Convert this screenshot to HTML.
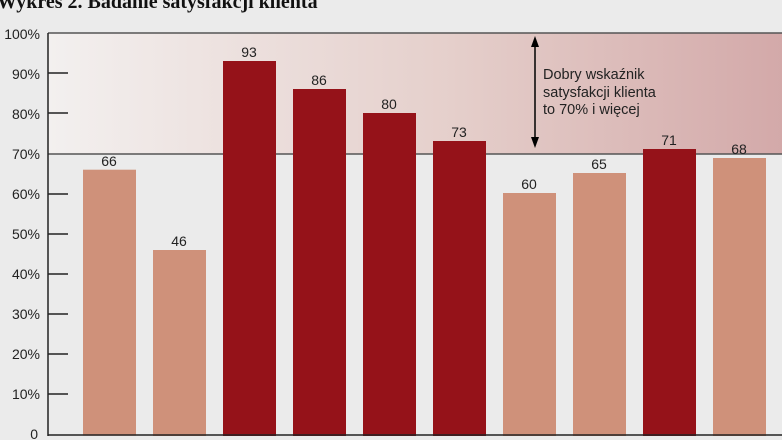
<!DOCTYPE html>
<html><head><style>
html,body{margin:0;padding:0;background:#ebebeb;width:782px;height:440px;overflow:hidden}
</style></head><body>
<svg width="782" height="440" xmlns="http://www.w3.org/2000/svg" style="display:block">
<defs>
<linearGradient id="g" x1="0" x2="1" y1="0" y2="0">
<stop offset="0" stop-color="#f3f0ef"/>
<stop offset="0.55" stop-color="#e5cfcb"/>
<stop offset="1" stop-color="#d3a9a9"/>
</linearGradient>
</defs>
<text x="-3" y="8" font-family="Liberation Serif, serif" font-weight="bold" font-size="20" fill="#111">Wykres 2. Badanie satysfakcji klienta</text>
<rect x="48" y="33" width="734" height="121" fill="url(#g)"/>
<line x1="48" y1="33" x2="782" y2="33" stroke="#555" stroke-width="1.5"/>
<line x1="48" y1="154" x2="782" y2="154" stroke="#555" stroke-width="1.5"/>
<g font-family="Liberation Sans, sans-serif" font-size="14" fill="#222" text-anchor="end">
<text x="40" y="39">100%</text><text x="40" y="79">90%</text><text x="40" y="119">80%</text>
<text x="40" y="159">70%</text><text x="40" y="199">60%</text><text x="40" y="239">50%</text>
<text x="40" y="279">40%</text><text x="40" y="319">30%</text><text x="40" y="359">20%</text>
<text x="40" y="399">10%</text><text x="38" y="439">0</text>
</g>
<g stroke="#222" stroke-width="1.5">
<line x1="48" y1="73" x2="68" y2="73"/><line x1="48" y1="113" x2="68" y2="113"/>
<line x1="48" y1="194" x2="68" y2="194"/><line x1="48" y1="234" x2="68" y2="234"/>
<line x1="48" y1="274" x2="68" y2="274"/><line x1="48" y1="314" x2="68" y2="314"/>
<line x1="48" y1="354" x2="68" y2="354"/><line x1="48" y1="394" x2="68" y2="394"/>
</g>
<g>
<rect x="83" y="169.7" width="53" height="266" fill="#cf917a"/>
<rect x="153" y="250" width="53" height="186" fill="#cf917a"/>
<rect x="223" y="61" width="53" height="375" fill="#951219"/>
<rect x="293" y="89" width="53" height="347" fill="#951219"/>
<rect x="363" y="113" width="53" height="323" fill="#951219"/>
<rect x="433" y="141" width="53" height="295" fill="#951219"/>
<rect x="503" y="193" width="53" height="243" fill="#cf917a"/>
<rect x="573" y="173" width="53" height="263" fill="#cf917a"/>
<rect x="643" y="149" width="53" height="287" fill="#951219"/>
<rect x="713" y="158" width="53" height="278" fill="#cf917a"/>
</g>
<g font-family="Liberation Sans, sans-serif" font-size="14" fill="#222" text-anchor="middle">
<text x="109" y="166">66</text><text x="179" y="246">46</text><text x="249" y="57">93</text>
<text x="319" y="85">86</text><text x="389" y="109">80</text><text x="459" y="137">73</text>
<text x="529" y="189">60</text><text x="599" y="169">65</text><text x="669" y="145">71</text>
<text x="739" y="154">68</text>
</g>
<line x1="48" y1="33" x2="48" y2="436" stroke="#222" stroke-width="1.5"/>
<line x1="48" y1="435" x2="782" y2="435" stroke="#222" stroke-width="1.5"/>
<line x1="535" y1="42" x2="535" y2="142" stroke="#000" stroke-width="1.5"/>
<polygon points="535,36 531,47 539,47" fill="#000"/>
<polygon points="535,148 531,137 539,137" fill="#000"/>
<g font-family="Liberation Sans, sans-serif" font-size="14.5" fill="#222">
<text x="543" y="79">Dobry wskaźnik</text>
<text x="543" y="97">satysfakcji klienta</text>
<text x="543" y="114">to 70% i więcej</text>
</g>
</svg>
</body></html>
